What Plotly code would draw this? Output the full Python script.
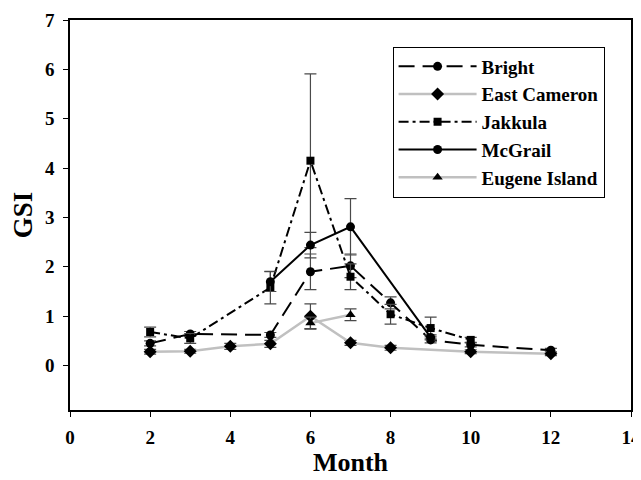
import plotly.graph_objects as go

# ---- data ----
bright_month = [2, 3, 5, 6, 7, 8, 9, 10, 12]
bright_gsi = [0.45, 0.64, 0.62, 1.90, 2.02, 1.27, 0.52, 0.42, 0.31]
bright_err = [0.05, 0.05, 0.05, 0.36, 0.24, 0.12, 0.06, 0.04, 0.04]

eastcam_month = [2, 3, 4, 5, 6, 7, 8, 10, 12]
eastcam_gsi = [0.28, 0.29, 0.39, 0.44, 1.00, 0.46, 0.36, 0.28, 0.24]
eastcam_err = [0.05, 0.04, 0.06, 0.07, 0.25, 0.05, 0.05, 0.04, 0.04]

jakkula_month = [2, 3, 5, 6, 7, 8, 9, 10]
jakkula_gsi = [0.68, 0.55, 1.58, 4.15, 1.80, 1.04, 0.76, 0.52]
jakkula_err = [0.10, 0.10, 0.33, 1.76, 0.26, 0.20, 0.22, 0.05]

mcgrail_month = [5, 6, 7, 9]
mcgrail_gsi = [1.70, 2.44, 2.81, 0.57]
mcgrail_err = [0.20, 0.26, 0.57, 0.05]

eugene_month = [6, 7]
eugene_gsi = [0.86, 1.03]
eugene_err = [0.12, 0.12]

x_ticks = [0, 2, 4, 6, 8, 10, 12, 14]
y_ticks = [0, 1, 2, 3, 4, 5, 6, 7]

FONT = "Liberation Serif"
ERR_COLOR = "#4a4a4a"


def err(vals):
    return dict(type="data", array=vals, visible=True, color=ERR_COLOR,
                thickness=1.2, width=6)


fig = go.Figure()

fig.add_trace(go.Scatter(
    x=bright_month, y=bright_gsi, name="Bright", mode="lines+markers",
    line=dict(color="black", width=2, dash="16px,8px"),
    marker=dict(symbol="circle", size=9, color="black"),
    error_y=err(bright_err)))

fig.add_trace(go.Scatter(
    x=eastcam_month, y=eastcam_gsi, name="East Cameron", mode="lines+markers",
    line=dict(color="#c0c0c0", width=2.5),
    marker=dict(symbol="diamond", size=10, color="black"),
    error_y=err(eastcam_err)))

fig.add_trace(go.Scatter(
    x=jakkula_month, y=jakkula_gsi, name="Jakkula", mode="lines+markers",
    line=dict(color="black", width=2, dash="10px,4px,3px,4px"),
    marker=dict(symbol="square", size=8, color="black"),
    error_y=err(jakkula_err)))

fig.add_trace(go.Scatter(
    x=mcgrail_month, y=mcgrail_gsi, name="McGrail", mode="lines+markers",
    line=dict(color="black", width=2),
    marker=dict(symbol="circle", size=9, color="black"),
    error_y=err(mcgrail_err)))

fig.add_trace(go.Scatter(
    x=eugene_month, y=eugene_gsi, name="Eugene Island", mode="lines+markers",
    line=dict(color="#c0c0c0", width=2.5),
    marker=dict(symbol="triangle-up", size=9, color="black"),
    error_y=err(eugene_err)))

axis_common = dict(
    showgrid=False, zeroline=False, showline=True, linecolor="black",
    linewidth=1.5, mirror=True, ticks="outside", ticklen=5, tickwidth=1,
    tickcolor="black", ticklabeloverflow="allow", automargin=False,
    tickfont=dict(family=FONT, size=19, color="black"),
)

# the page body adds an 8px offset, so margins compensate for it
fig.update_layout(
    width=641, height=480,
    margin=dict(l=62, r=18, t=12, b=78),
    paper_bgcolor="white", plot_bgcolor="white",
    font=dict(family=FONT, color="black"),
    xaxis=dict(range=[0, 14], tickvals=x_ticks,
               ticktext=[f"<b>{v}</b>" for v in x_ticks],
               ticklabelstandoff=4,
               title=dict(text="<b>Month</b>", font=dict(family=FONT, size=26, color="black"),
                          standoff=6),
               **axis_common),
    yaxis=dict(range=[-0.9, 7], tickvals=y_ticks,
               ticktext=[f"<b>{v}</b>" for v in y_ticks],
               ticklabelstandoff=5,
               title=dict(text="<b>GSI</b>", font=dict(family=FONT, size=27, color="black"),
                          standoff=14),
               **axis_common),
    showlegend=True,
    legend=dict(
        x=0.575, y=0.932, xanchor="left", yanchor="top",
        bgcolor="white", bordercolor="black", borderwidth=1,
        font=dict(family=FONT, size=19, color="black", weight="bold"),
        itemwidth=78, tracegroupgap=0,
    ),
)

fig.write_html("out.html")
